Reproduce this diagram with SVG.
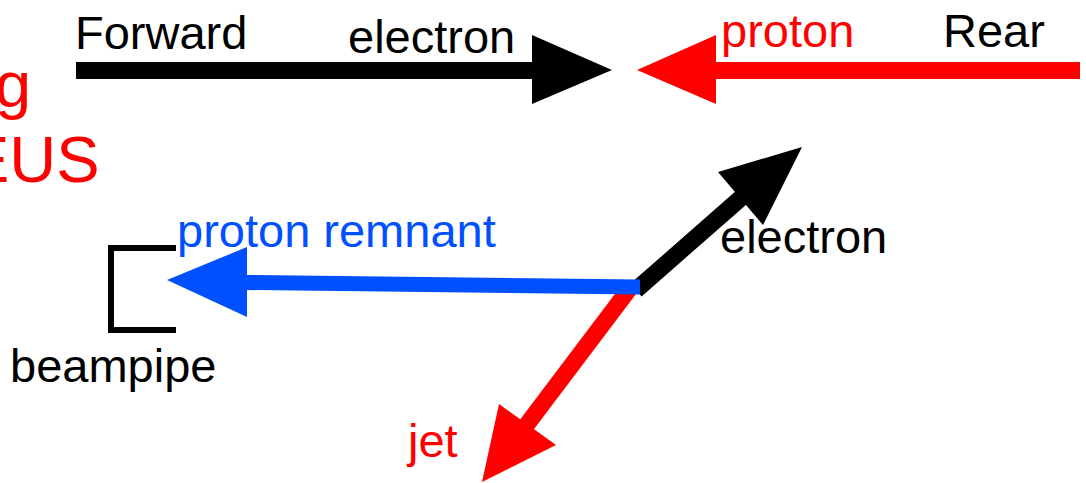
<svg xmlns="http://www.w3.org/2000/svg" width="1086" height="483" viewBox="0 0 1086 483">
<style>
text{font-family:"Liberation Sans",Arial,Helvetica,sans-serif;font-size:47px}
.k{fill:#000}
.r{fill:#ff0000}
.b{fill:#0050ff}
.big{font-size:65px}
.sk{stroke:#000;stroke-width:17;fill:none}
.sr{stroke:#ff0000;stroke-width:17;fill:none}
.sb{stroke:#0050ff;stroke-width:15;fill:none}
</style>
<rect width="1086" height="483" fill="#fff"/>
<g id="title">
<text class="r big" x="-5" y="107">g</text>
<text class="r big" x="-34" y="182">EUS</text>
</g>
<g id="connectors">
<line class="sk" x1="76" y1="70.5" x2="534" y2="70.5"/>
<polygon class="k" points="532,35 612,70 532,104"/>
<line class="sr" x1="714" y1="70.5" x2="1080" y2="70.5"/>
<polygon class="r" points="716,35 637,70 716,104"/>
<line class="sk" x1="636" y1="290" x2="742" y2="197"/>
<polygon class="k" points="718,172 802,147 763,225"/>
<line class="sr" x1="630" y1="288" x2="525" y2="427"/>
<polygon class="r" points="499,404 482,482 556,445"/>
<line class="sb" x1="640" y1="287" x2="245" y2="282.5"/>
<polygon class="b" points="247,247 167,280 247,317"/>
</g>
<g id="beampipe">
<path d="M176,248 H111 V330 H176" stroke="#000" stroke-width="6" fill="none"/>
<text class="k" x="10" y="382">beampipe</text>
</g>
<g id="forward"><text class="k" x="75" y="49">Forward</text></g>
<g id="electron-in"><text class="k" x="348" y="53">electron</text></g>
<g id="proton-in"><text class="r" x="721" y="47">proton</text></g>
<g id="rear"><text class="k" x="943" y="47">Rear</text></g>
<g id="proton-remnant"><text class="b" x="177" y="247">proton remnant</text></g>
<g id="electron-out"><text class="k" x="720" y="253">electron</text></g>
<g id="jet"><text class="r" x="408" y="457">jet</text></g>
</svg>
